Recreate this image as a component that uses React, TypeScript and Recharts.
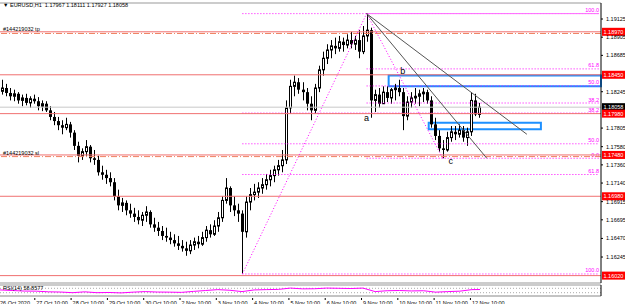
import {
  ComposedChart,
  Bar,
  Line,
  XAxis,
  YAxis,
  ReferenceLine,
  ReferenceArea,
  ReferenceDot,
} from "recharts"

// EURUSD H1 candles
const firstOpen = 1.1825

const closes = [
  1.1829, 1.1823, 1.1819, 1.1822, 1.1814, 1.1817, 1.1811, 1.1816, 1.1813, 1.1807,
  1.181, 1.1802, 1.1794, 1.1789, 1.1784, 1.1781, 1.1785, 1.1775, 1.1759, 1.1747,
  1.1752, 1.1758, 1.1744, 1.1742, 1.1727, 1.1724, 1.172, 1.1715, 1.1698, 1.1687,
  1.169, 1.1681, 1.1677, 1.1673, 1.1669, 1.1675, 1.1679, 1.1664, 1.166, 1.1656,
  1.165, 1.1648, 1.1645, 1.1641, 1.1638, 1.1635, 1.1632, 1.1639, 1.1643, 1.164,
  1.1648, 1.1657, 1.1652, 1.1662, 1.1672, 1.1693, 1.1708, 1.1687, 1.1681, 1.1677,
  1.1655, 1.1691, 1.17, 1.1703, 1.1708, 1.1712, 1.1718, 1.1723, 1.173, 1.1735,
  1.1742, 1.1805, 1.1831, 1.1836, 1.1827, 1.1824, 1.181, 1.1802, 1.1829, 1.1851,
  1.1865, 1.1875, 1.188, 1.1877, 1.1885, 1.1881, 1.1887, 1.1882, 1.1887, 1.1873,
  1.1892, 1.1899, 1.1814, 1.1821, 1.181, 1.1824, 1.1817, 1.1827, 1.1829, 1.1824,
  1.1795, 1.1812, 1.1817, 1.1819, 1.1822, 1.1824, 1.1814, 1.1785, 1.1771, 1.1756,
  1.1754, 1.1769, 1.1776, 1.1773, 1.1778, 1.1769, 1.1776, 1.1814, 1.1797, 1.18058,
]

const highs = [
  1.1839, 1.1834, 1.1829, 1.1827, 1.1824, 1.1821, 1.1822, 1.1819, 1.1821, 1.1818,
  1.1814, 1.1813, 1.1807, 1.18, 1.1794, 1.179, 1.1793, 1.1788, 1.1778, 1.1764,
  1.1756, 1.1766, 1.176, 1.1754, 1.1747, 1.1735, 1.173, 1.1727, 1.172, 1.1706,
  1.1696, 1.1693, 1.1689, 1.1684, 1.1681, 1.1679, 1.1686, 1.1681, 1.1672, 1.1667,
  1.1662, 1.166, 1.1655, 1.1652, 1.165, 1.1645, 1.1643, 1.1645, 1.1648, 1.165,
  1.1655, 1.1662, 1.1664, 1.1669, 1.1679, 1.1698, 1.172, 1.171, 1.1698, 1.1689,
  1.1681, 1.1698, 1.1708, 1.1713, 1.1715, 1.172, 1.1725, 1.173, 1.1735, 1.1742,
  1.1754, 1.1814, 1.1839, 1.1844, 1.1841, 1.1836, 1.1829, 1.1819, 1.1834, 1.1856,
  1.1873, 1.1882, 1.1887, 1.189, 1.1892, 1.189, 1.1894, 1.1897, 1.1892, 1.1899,
  1.1904, 1.1919, 1.1902, 1.1827, 1.1829, 1.1831, 1.1831, 1.1829, 1.1834, 1.1839,
  1.1829, 1.1819, 1.1824, 1.1829, 1.1827, 1.1829, 1.1827, 1.1819, 1.1793, 1.1778,
  1.1766, 1.1776, 1.1783, 1.1783, 1.1785, 1.1783, 1.1781, 1.1824, 1.1822, 1.1811,
]

const lows = [
  1.1821, 1.1819, 1.1814, 1.1813, 1.181, 1.1807, 1.1808, 1.1805, 1.181, 1.1802,
  1.1801, 1.18, 1.179, 1.1784, 1.1778, 1.1773, 1.1778, 1.1769, 1.1754, 1.1739,
  1.1742, 1.1747, 1.1739, 1.1736, 1.1723, 1.1718, 1.1713, 1.171, 1.1693, 1.1681,
  1.1679, 1.1675, 1.1672, 1.1667, 1.1664, 1.1662, 1.1667, 1.166, 1.1655, 1.165,
  1.1645, 1.1643, 1.164, 1.1637, 1.1633, 1.1631, 1.1626, 1.1628, 1.1633, 1.1635,
  1.1638, 1.1643, 1.1648, 1.165, 1.1655, 1.1667, 1.1689, 1.1679, 1.1674, 1.1667,
  1.1604, 1.1648, 1.1681, 1.1693, 1.1696, 1.1701, 1.1706, 1.171, 1.1715, 1.1723,
  1.1727, 1.1737, 1.1798, 1.1819, 1.1822, 1.1814, 1.1802, 1.179, 1.1798, 1.1824,
  1.1844, 1.1858, 1.1865, 1.187, 1.1873, 1.1873, 1.1877, 1.1877, 1.1875, 1.1865,
  1.187, 1.1885, 1.1793, 1.18, 1.1805, 1.181, 1.1812, 1.181, 1.1814, 1.1819,
  1.1778, 1.179, 1.1805, 1.181, 1.1807, 1.1812, 1.181, 1.1781, 1.1766, 1.1752,
  1.1744, 1.1752, 1.1764, 1.1766, 1.1769, 1.1764, 1.1759, 1.1771, 1.1795, 1.1793,
]

// RSI(14), one reading every 3 bars
const rsiValues = [
  55, 50, 45, 44, 38, 36, 30, 38, 30, 32,
  28, 35, 40, 36, 35, 33, 42, 50, 58, 52,
  40, 55, 58, 60, 72, 65, 66, 72, 70, 68,
  72, 40, 48, 50, 46, 48, 35, 40, 44, 58,
  58.86,
]

const priceTicks = [
  1.19125, 1.18905, 1.18685, 1.18245, 1.17805, 1.1758, 1.1736, 1.1714, 1.16915,
  1.16695, 1.1647, 1.16245,
]

const dateTicks = [0, 9, 18, 27, 36, 45, 54, 63, 72, 81, 90, 99, 108, 117]
const dateLabels = [
  "26 Oct 2020", "27 Oct 10:00", "28 Oct 10:00", "29 Oct 10:00", "30 Oct 10:00",
  "2 Nov 10:00", "3 Nov 10:00", "4 Nov 10:00", "5 Nov 10:00", "6 Nov 10:00",
  "9 Nov 10:00", "10 Nov 10:00", "11 Nov 10:00", "12 Nov 10:00",
]

// horizontal levels
const redLevels = [1.1897, 1.1845, 1.1798, 1.1748, 1.1698, 1.1602]
const takeProfit = 1.1895
const stopLoss = 1.1746
const lastPrice = 1.18058

// fibo anchors (bar index, price)
const swingLow = { i: 60, p: 1.1604 }
const swingHigh = { i: 91, p: 1.1919 }
const swingC = { i: 110, p: 1.1744 }
const fibRatios = [0, 38.2, 50, 61.8, 100]

const W = 625
const AXIS_W = 24
const SLOTS = 150
const Y_MIN = 1.159306
const Y_MAX = 1.193186
const FONT = "Liberation Sans"
const PINK = "#ff00ff"

const rsiAt = new Map(rsiValues.map((v, k) => [Math.min(k * 3, closes.length - 1), v]))

const data = Array.from({ length: SLOTS }, (_, i) => {
  if (i >= closes.length) return { i }
  const open = i === 0 ? firstOpen : closes[i - 1]
  return {
    i,
    open,
    close: closes[i],
    high: highs[i],
    low: lows[i],
    range: [lows[i], highs[i]],
    rsi: rsiAt.get(i),
  }
})

function Candle(props: any) {
  const { x, y, width, height, payload } = props
  if (!payload || payload.high == null) return null
  const { open, close, high, low } = payload
  const top = Math.min(y, y + height)
  const h = Math.abs(height)
  const span = high - low || 1
  const py = (v: number) => top + ((high - v) / span) * h
  const cx = Math.round(x + width / 2)
  const bTop = py(Math.max(open, close))
  const bH = Math.max(1, Math.abs(py(open) - py(close)))
  const up = close >= open
  return (
    <g>
      <line x1={cx + 0.5} x2={cx + 0.5} y1={top} y2={top + h} stroke="#000" />
      {up ? (
        <rect x={cx - 0.5} y={bTop} width={2} height={bH} fill="#fff" stroke="#000" />
      ) : (
        <rect x={cx - 1} y={bTop} width={3} height={bH} fill="#000" />
      )}
    </g>
  )
}

function PriceTick(props: any) {
  const { x, y, payload } = props
  return (
    <text x={x + 1} y={y + 2} fontSize={5.5} fontFamily={FONT} fill="#000">
      {payload.value.toFixed(5)}
    </text>
  )
}

function PriceTag(props: any) {
  const { viewBox, text, bg } = props
  if (!viewBox) return null
  const x = viewBox.x + viewBox.width
  const y = viewBox.y
  return (
    <g>
      <rect x={x + 1} y={y - 4} width={23} height={8} fill={bg} />
      <text x={x + 2.5} y={y + 2} fontSize={5.5} fontFamily={FONT} fill="#fff">
        {text}
      </text>
    </g>
  )
}

function EndLabel(props: any) {
  const { viewBox, text } = props
  if (!viewBox || !text) return null
  return (
    <text
      x={viewBox.x + viewBox.width}
      y={viewBox.y - 1.5}
      textAnchor="end"
      fontSize={5.5}
      fontFamily={FONT}
      fill={PINK}
    >
      {text}
    </text>
  )
}

function StartLabel(props: any) {
  const { viewBox, text } = props
  if (!viewBox) return null
  return (
    <text x={viewBox.x + 3} y={viewBox.y - 2} fontSize={5.5} fontFamily={FONT} fill="#000">
      {text}
    </text>
  )
}

function DateTick(props: any) {
  const { x, y, payload } = props
  const k = dateTicks.indexOf(payload.value)
  return (
    <g>
      <line x1={x - 1.5} x2={x - 1.5} y1={y} y2={y + 2} stroke="#000" />
      <text x={x} y={y + 6.5} fontSize={5.5} fontFamily={FONT} fill="#000">
        {dateLabels[k]}
      </text>
    </g>
  )
}

// fibo from the low to the high: its 0.0 sits under the other one's 100.0
const fib1 = fibRatios.map((r) => ({
  r,
  p: swingHigh.p - (r / 100) * (swingHigh.p - swingLow.p),
  text: r === 0 ? "" : r.toFixed(1),
}))
const fib2 = fibRatios.map((r) => ({
  r,
  p: swingC.p + (r / 100) * (swingHigh.p - swingC.p),
  text: r.toFixed(1),
}))

const waveLabel = (value: string) => ({
  value,
  position: "center" as const,
  fontSize: 9,
  fontFamily: FONT,
  fill: "#000",
})

export default function App() {
  return (
    <div style={{ position: "absolute", left: 0, top: 0, width: W, height: 304, background: "#fff" }}>
      <ComposedChart
        width={W}
        height={285}
        data={data}
        margin={{ top: 3, right: 0, bottom: 2, left: 0 }}
        barCategoryGap={0}
      >
        <XAxis dataKey="i" hide />
        <YAxis
          orientation="right"
          type="number"
          domain={[Y_MIN, Y_MAX]}
          allowDataOverflow
          ticks={priceTicks}
          interval={0}
          width={AXIS_W}
          tickSize={2}
          tick={<PriceTick />}
          axisLine={{ stroke: "#000" }}
          tickLine={{ stroke: "#000" }}
        />
        <ReferenceLine y={Y_MAX} stroke="#999" />
        <ReferenceLine y={Y_MIN} stroke="#999" />

        {fib1.map((f) => (
          <ReferenceLine
            key={"f1" + f.r}
            segment={[{ x: swingLow.i, y: f.p }, { x: SLOTS - 1, y: f.p }]}
            stroke={PINK}
            strokeDasharray="1 2"
            label={<EndLabel text={f.text} />}
          />
        ))}
        {fib2.map((f) => (
          <ReferenceLine
            key={"f2" + f.r}
            segment={[{ x: swingHigh.i, y: f.p }, { x: SLOTS - 1, y: f.p }]}
            stroke={PINK}
            strokeDasharray="1 2"
            label={<EndLabel text={f.text} />}
          />
        ))}

        <ReferenceLine y={lastPrice} stroke="#c8c8c8" label={<PriceTag text={lastPrice.toFixed(5)} bg="#000" />} />
        {redLevels.map((v) => (
          <ReferenceLine key={v} y={v} stroke="#f07070" label={<PriceTag text={v.toFixed(5)} bg="#ff0000" />} />
        ))}
        <ReferenceLine
          y={takeProfit}
          stroke="#f08060"
          strokeDasharray="6 2 1 2"
          label={<StartLabel text="#144219032 tp" />}
        />
        <ReferenceLine
          y={stopLoss}
          stroke="#f08060"
          strokeDasharray="6 2 1 2"
          label={<StartLabel text="#144219032 sl" />}
        />

        <ReferenceLine
          segment={[{ x: swingLow.i, y: swingLow.p }, { x: swingHigh.i, y: swingHigh.p }]}
          stroke={PINK}
          strokeDasharray="1 2"
        />
        <ReferenceLine
          segment={[{ x: swingHigh.i, y: swingHigh.p }, { x: swingC.i, y: swingC.p }]}
          stroke={PINK}
          strokeDasharray="1 2"
        />
        <ReferenceLine
          segment={[{ x: swingHigh.i, y: swingHigh.p }, { x: 131, y: 1.1773 }]}
          stroke="#555"
        />
        <ReferenceLine
          segment={[{ x: swingHigh.i, y: swingHigh.p }, { x: 121, y: 1.1744 }]}
          stroke="#555"
        />

        <Bar dataKey="range" shape={<Candle />} isAnimationActive={false} />

        <ReferenceArea x1={97} x2={SLOTS - 1} y1={1.1831} y2={1.1844} fill="none" stroke="#1e90ff" strokeWidth={2} />
        <ReferenceArea x1={107} x2={134} y1={1.1779} y2={1.1787} fill="none" stroke="#1e90ff" strokeWidth={2} />

        <ReferenceDot x={91} y={1.1793} r={0} fill="none" stroke="none" label={waveLabel("a")} />
        <ReferenceDot x={100} y={1.185} r={0} fill="none" stroke="none" label={waveLabel("b")} />
        <ReferenceDot x={112} y={1.1741} r={0} fill="none" stroke="none" label={waveLabel("c")} />
      </ComposedChart>

      <div style={{ position: "absolute", left: 3, top: 2, fontSize: 5.5, fontFamily: FONT, color: "#000", whiteSpace: "pre" }}>
        {"▼ EURUSD,H1  1.17967 1.18111 1.17927 1.18058"}
      </div>

      <div style={{ position: "absolute", left: 0, top: 284 }}>
        <ComposedChart width={W} height={20} data={data} margin={{ top: 1, right: 0, bottom: 0, left: 0 }}>
          <XAxis
            dataKey="i"
            ticks={dateTicks}
            interval={0}
            height={8}
            tickSize={0}
            tick={<DateTick />}
            axisLine={{ stroke: "#888" }}
            tickLine={false}
          />
          <YAxis orientation="right" type="number" domain={[0, 100]} width={AXIS_W} tick={false} axisLine={{ stroke: "#000" }} />
          <ReferenceLine y={100} stroke="#999" />
          <ReferenceLine y={70} stroke="#aaa" strokeDasharray="1 2" />
          <ReferenceLine y={30} stroke="#aaa" strokeDasharray="1 2" />
          <Line dataKey="rsi" stroke={PINK} dot={false} connectNulls isAnimationActive={false} />
        </ComposedChart>
        <div style={{ position: "absolute", left: 3, top: 1, fontSize: 5.5, fontFamily: FONT, color: "#000" }}>
          RSI(14) 58.8577
        </div>
      </div>
    </div>
  )
}
